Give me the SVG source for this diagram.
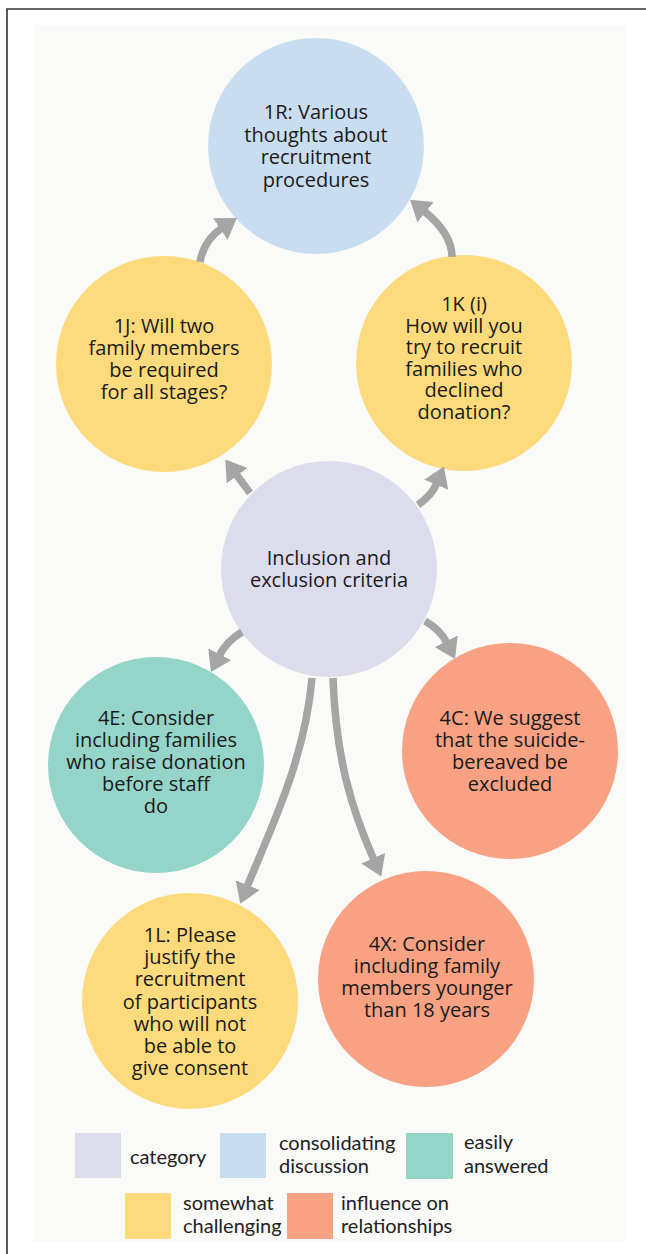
<svg xmlns="http://www.w3.org/2000/svg" width="646" height="1254" viewBox="0 0 646 1254">
<style>
.n text{font-family:"Open Sans","Liberation Sans",sans-serif;font-size:20px;fill:#1a1a1a;text-anchor:middle}
.cat{fill:#dddcec}.con{fill:#c9ddf0}.eas{fill:#95d5c9}.som{fill:#fddb7c}.inf{fill:#f8a283}
.c path{fill:none;stroke:#a5a5a5;stroke-width:7.5;marker-end:url(#ah)}
.lg text{font-family:Lato,"Liberation Sans",sans-serif;font-size:20px;fill:#222}
</style>
<defs>
<marker id="ah" viewBox="0 0 20 26" refX="2" refY="13" markerWidth="20" markerHeight="26" markerUnits="userSpaceOnUse" orient="auto">
<path d="M0,0 L20,13 L0,26 z" fill="#a5a5a5"/>
</marker>
</defs>
<rect width="646" height="1254" fill="#ffffff"/>
<path d="M7,1254 V9 H646" fill="none" stroke="#333" stroke-width="1.6"/>
<rect x="34" y="25" width="591" height="1217" fill="#fafaf8"/>

<g id="n1R" class="n">
<circle class="con" cx="316" cy="146" r="108"/>
<text x="316" y="119">1R: Various<tspan x="316" dy="22.5">thoughts about</tspan><tspan x="316" dy="22.5">recruitment</tspan><tspan x="316" dy="22.5">procedures</tspan></text>
</g>
<g id="n1J" class="n">
<circle class="som" cx="164" cy="364" r="108"/>
<text x="164" y="333">1J: Will two<tspan x="164" dy="22">family members</tspan><tspan x="164" dy="22">be required</tspan><tspan x="164" dy="22">for all stages?</tspan></text>
</g>
<g id="n1K" class="n">
<circle class="som" cx="464" cy="363" r="108"/>
<text x="464" y="311">1K (i)<tspan x="464" dy="21.5">How will you</tspan><tspan x="464" dy="21.5">try to recruit</tspan><tspan x="464" dy="21.5">families who</tspan><tspan x="464" dy="21.5">declined</tspan><tspan x="464" dy="21.5">donation?</tspan></text>
</g>
<g id="nInc" class="n">
<circle class="cat" cx="329" cy="569" r="108"/>
<text x="329" y="565">Inclusion and<tspan x="329" dy="22">exclusion criteria</tspan></text>
</g>
<g id="n4E" class="n">
<circle class="eas" cx="156" cy="765" r="108"/>
<text x="156" y="725">4E: Consider<tspan x="156" dy="22">including families</tspan><tspan x="156" dy="22">who raise donation</tspan><tspan x="156" dy="22">before staff</tspan><tspan x="156" dy="22">do</tspan></text>
</g>
<g id="n4C" class="n">
<circle class="inf" cx="510" cy="751" r="108"/>
<text x="510" y="725">4C: We suggest<tspan x="510" dy="22">that the suicide-</tspan><tspan x="510" dy="22">bereaved be</tspan><tspan x="510" dy="22">excluded</tspan></text>
</g>
<g id="n1L" class="n">
<circle class="som" cx="190" cy="1001" r="108"/>
<text x="190" y="942">1L: Please<tspan x="190" dy="22.2">justify the</tspan><tspan x="190" dy="22.2">recruitment</tspan><tspan x="190" dy="22.2">of participants</tspan><tspan x="190" dy="22.2">who will not</tspan><tspan x="190" dy="22.2">be able to</tspan><tspan x="190" dy="22.2">give consent</tspan></text>
</g>
<g id="n4X" class="n">
<circle class="inf" cx="426" cy="979" r="108"/>
<text x="427" y="951">4X: Consider<tspan x="427" dy="22">including family</tspan><tspan x="427" dy="22">members younger</tspan><tspan x="427" dy="22">than 18 years</tspan></text>
</g>

<g id="connectors" class="c">
<path d="M200,262 Q204,240 222,228"/>
<path d="M452,257 C452,240 440,224 424,211"/>
<path d="M250,493 L236,474"/>
<path d="M418,505 Q432,495 437,483"/>
<path d="M242,632 C232,638 224,646 219,656"/>
<path d="M425,621 C434,626 442,633 447,643"/>
<path d="M312,678 C305,760 270,830 247,887"/>
<path d="M333,678 C336,760 352,810 374,860"/>
</g>

<g id="legend" class="lg">
<rect class="cat" x="75" y="1133" width="46" height="45"/>
<text x="130" y="1164">category</text>
<rect class="con" x="220" y="1133" width="46" height="45"/>
<text x="279" y="1150">consolidating<tspan x="279" dy="23">discussion</tspan></text>
<rect class="eas" x="406" y="1133" width="47" height="46"/>
<text x="464" y="1149">easily<tspan x="464" dy="24">answered</tspan></text>
<rect class="som" x="125" y="1193" width="46" height="46"/>
<text x="183" y="1210">somewhat<tspan x="183" dy="23">challenging</tspan></text>
<rect class="inf" x="287" y="1193" width="46" height="46"/>
<text x="341" y="1210">influence on<tspan x="341" dy="23">relationships</tspan></text>
</g>
</svg>
